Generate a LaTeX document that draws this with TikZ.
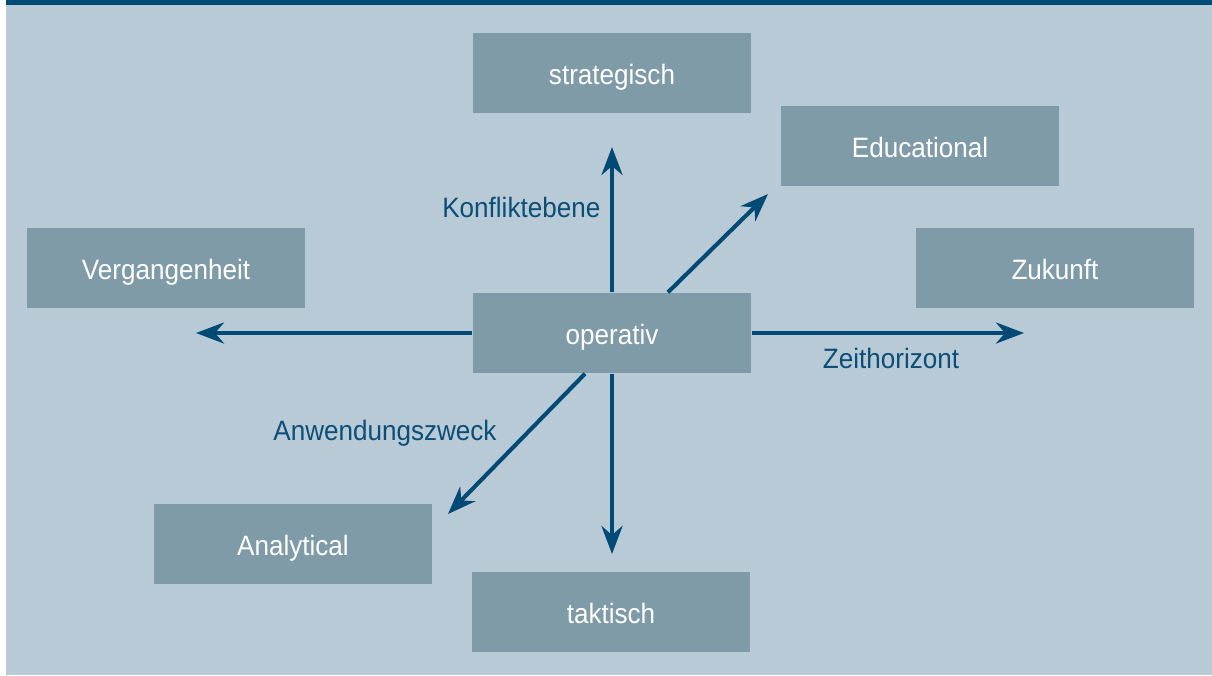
\documentclass[tikz,border=0pt]{standalone}
\usepackage{fontspec}
\setmainfont{Liberation Sans}[FakeStretch=0.93]
\usepackage{xcolor}
\usepackage{tikz}
\usetikzlibrary{calc,arrows.meta}
\definecolor{bg}{HTML}{B7CAD5}
\definecolor{band}{HTML}{004B76}
\definecolor{boxfill}{HTML}{7F9BA8}
\definecolor{axis}{HTML}{004A75}
\definecolor{axislab}{HTML}{0B4E78}
\tikzset{
  box/.style={fill=boxfill, draw=none, minimum width=2.78cm, minimum height=0.8cm,
    inner sep=0pt, text height=1.2ex, text depth=0pt, text=white,
    font=\fontsize{7.97pt}{9pt}\selectfont},
  axisline/.style={draw=axis, line width=1.15pt,
    -{Stealth[length=0.28cm, width=0.21cm, inset=0.09cm]}},
  axislabel/.style={text=axislab, inner sep=0pt, font=\fontsize{7.97pt}{9pt}\selectfont}
}

\begin{document}
\begin{tikzpicture}[x=0.01cm, y=-0.01cm]
  \useasboundingbox (0,0) rectangle (1212,675);
  \fill[bg] (6,0) rectangle (1212,675);
  \fill[band] (6,0) rectangle (1212,5);

  \node[box] (strat) at (612,73) {strategisch};
  \node[box] (edu) at (920,146) {Educational};
  \node[box] (verg) at (166,268) {Vergangenheit};
  \node[box] (zuk) at (1055,268) {Zukunft};
  \node[box] (oper) at (612,333) {operativ};
  \node[box] (ana) at (293,544) {Analytical};
  \node[box] (takt) at (611,612) {taktisch};

  % free ends of the axes
  \coordinate (upTip) at (612,147);
  \coordinate (downTip) at (612,554);
  \coordinate (leftTip) at (196,333);
  \coordinate (rightTip) at (1024,333);
  \coordinate (neTip) at (768,194);
  \coordinate (swTip) at (448,514);

  \draw[axisline] (oper.north) -- (upTip);
  \draw[axisline] (oper.south) -- (downTip);
  \draw[axisline] (oper.west) -- (leftTip);
  \draw[axisline] (oper.east) -- (rightTip);
  \draw[axisline] ($(oper.north)+(56,0)$) -- (neTip);
  \draw[axisline] ($(oper.south)+(-27,0)$) -- (swTip);

  \node[axislabel,anchor=east] (konf) at (601,207) {Konfliktebene};
  \node[axislabel] (zeit) at (891,358) {Zeithorizont};
  \node[axislabel] (anw) at (385,433) {Anwendungszweck};
\end{tikzpicture}
\end{document}
